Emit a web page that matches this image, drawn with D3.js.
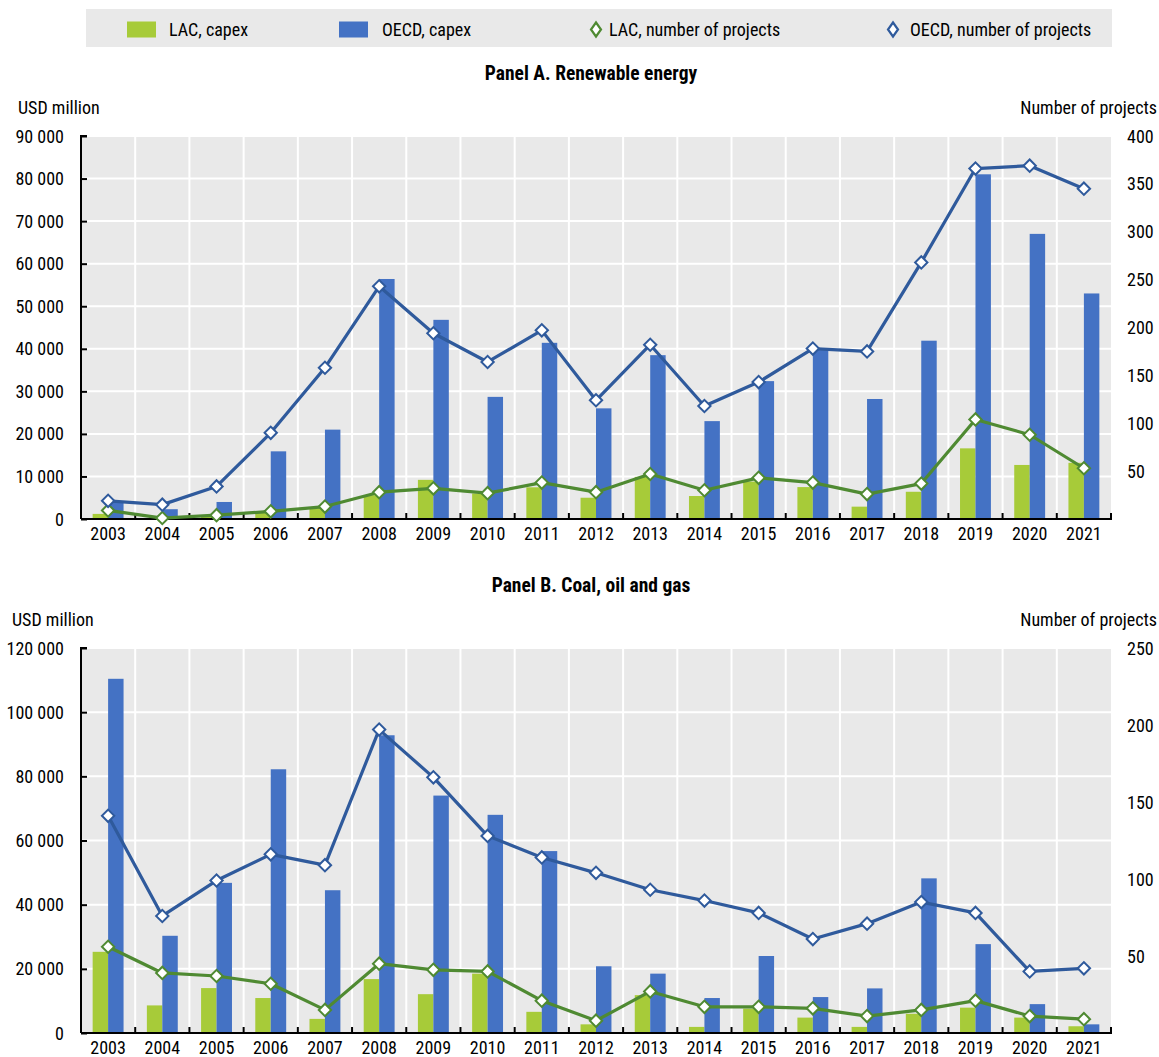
<!DOCTYPE html>
<html><head><meta charset="utf-8">
<script src="https://cdn.jsdelivr.net/npm/d3@7"></script>
<style>
body{margin:0;background:#fff;}
svg text{font-family:"Liberation Sans Narrow","Arial Narrow","Roboto Condensed",sans-serif;fill:#000;}
</style></head>
<body><svg id="c" width="1159" height="1057"></svg>
<script>
const years = ["2003","2004","2005","2006","2007","2008","2009","2010","2011","2012","2013","2014","2015","2016","2017","2018","2019","2020","2021"];

// Panel A. Renewable energy
const renLacCapex  = [1200,200,500,1700,2800,5600,9200,6000,7450,5000,9900,5400,8800,7500,2900,6400,16600,12700,13200];
const renOecdCapex = [4000,2300,4000,15900,21000,56400,46800,28700,41400,26000,38500,23000,32400,39700,28200,41900,81000,67000,53000];
const renLacProj   = [9,1,4,8,13,28,32,27,38,28,47,30,43,38,26,37,104,88,53];
const renOecdProj  = [19,15,34,90,158,243,194,164,197,124,182,118,143,178,175,268,366,369,345];

// Panel B. Coal, oil and gas
const fosLacCapex  = [25300,8600,14000,10900,4400,16800,12100,18500,6600,2700,11800,1900,7600,4800,1900,6000,7900,4800,2100];
const fosOecdCapex = [110400,30300,46800,82200,44500,92800,74000,68000,56700,20800,18500,10900,24000,11200,13900,48200,27700,9000,2700];
const fosLacProj   = [56,39,37,32,15,45,41,40,21,8,27,17,17,16,11,15,21,11,9];
const fosOecdProj  = [141,76,99,116,109,197,166,128,114,104,93,86,78,61,71,85,78,40,42];

const leftTicksA = [0,10000,20000,30000,40000,50000,60000,70000,80000,90000];
const rightTicksA = [50,100,150,200,250,300,350,400];
const leftTicksB = [0,20000,40000,60000,80000,100000,120000];
const rightTicksB = [50,100,150,200,250];

const legendItems = [
  {label:"LAC, capex", type:"bar", key:"lac"},
  {label:"OECD, capex", type:"bar", key:"oecd"},
  {label:"LAC, number of projects", type:"line", key:"lac"},
  {label:"OECD, number of projects", type:"line", key:"oecd"}
];

const COL = {lacBar:"#A7CB39", oecdBar:"#4472C4", lacLine:"#4F8A32", oecdLine:"#2F5A9C", bg:"#E9E9E9"};
const FS = 18;
const svg = d3.select("#c");
const fmt = v => d3.format(",")(v).replace(/,/g," ");

// Legend
const lg = svg.append("g");
lg.append("rect").attr("x",86).attr("y",9).attr("width",1026).attr("height",38).attr("fill",COL.bg);
const legX = [127, 339, 596, 893];
const legTX = [169, 382, 609, 910];
legendItems.forEach((it,i)=>{
  if(it.type==="bar"){
    lg.append("rect").attr("x",legX[i]).attr("y",21.5).attr("width",29).attr("height",16)
      .attr("fill", it.key==="lac"?COL.lacBar:COL.oecdBar);
  } else {
    const cx = legX[i], cy = 29.5;
    lg.append("path").attr("d",`M${cx},${cy-7}L${cx+5},${cy}L${cx},${cy+7}L${cx-5},${cy}Z`)
      .attr("fill","#fff").attr("stroke", it.key==="lac"?COL.lacLine:COL.oecdLine).attr("stroke-width",2.2);
  }
  lg.append("text").attr("x",legTX[i]).attr("y",35.5).attr("font-size",FS).text(it.label);
});

function panel(cfg){
  const {top,bottom,left,right,leftMax,rightMax,leftTicks,rightTicks,lac,oecd,lacP,oecdP,title,titleY,unitY,unitX} = cfg;
  const g = svg.append("g");
  const x = d3.scaleBand().domain(years).range([left,right]).padding(0);
  const inner = d3.scaleBand().domain(["lac","oecd"]).range([0, x.bandwidth()*0.57]);
  const off = (x.bandwidth() - x.bandwidth()*0.57)/2;
  const yL = d3.scaleLinear().domain([0,leftMax]).range([bottom,top]);
  const yR = d3.scaleLinear().domain([0,rightMax]).range([bottom,top]);

  g.append("rect").attr("x",left).attr("y",top).attr("width",right-left).attr("height",bottom-top).attr("fill",COL.bg);
  g.selectAll(".hg").data(leftTicks.filter(t=>t>0)).join("line")
    .attr("x1",left).attr("x2",right).attr("y1",d=>yL(d)).attr("y2",d=>yL(d))
    .attr("stroke","#fff").attr("stroke-width",2);
  g.selectAll(".vg").data(years.slice(1)).join("line")
    .attr("x1",d=>x(d)).attr("x2",d=>x(d)).attr("y1",top).attr("y2",bottom)
    .attr("stroke","#fff").attr("stroke-width",2);

  g.selectAll(".bl").data(years).join("rect")
    .attr("x",(d)=>x(d)+off+inner("lac")).attr("width",inner.bandwidth())
    .attr("y",(d,i)=>yL(lac[i])).attr("height",(d,i)=>bottom-yL(lac[i])).attr("fill",COL.lacBar);
  g.selectAll(".bo").data(years).join("rect")
    .attr("x",(d)=>x(d)+off+inner("oecd")).attr("width",inner.bandwidth())
    .attr("y",(d,i)=>yL(oecd[i])).attr("height",(d,i)=>bottom-yL(oecd[i])).attr("fill",COL.oecdBar);

  const axL = g.append("g").attr("transform",`translate(${left},0)`)
    .call(d3.axisRight(yL).tickValues(leftTicks).tickSize(6).tickFormat(""));
  axL.select(".domain").attr("stroke","#000").attr("stroke-width",2).attr("d",`M6,${top}H0V${bottom}`);
  axL.selectAll(".tick line").attr("stroke","#000").attr("stroke-width",2);
  const axB = g.append("g").attr("transform",`translate(0,${bottom})`)
    .call(d3.axisTop(x).tickValues([]).tickSize(0));
  axB.select(".domain").attr("stroke","#000").attr("stroke-width",2.2).attr("d",`M${left},0H${right+1}`);
  const bounds = years.slice(1).map(d=>x(d)).concat([right]);
  g.selectAll(".xt").data(bounds).join("line")
    .attr("x1",d=>d).attr("x2",d=>d).attr("y1",bottom).attr("y2",bottom-6)
    .attr("stroke","#000").attr("stroke-width",2);

  g.selectAll(".lt").data(leftTicks).join("text")
    .attr("x",left-17).attr("y",d=>yL(d)+6.5).attr("text-anchor","end").attr("font-size",FS).text(fmt);
  g.selectAll(".rt").data(rightTicks).join("text")
    .attr("x",right+16).attr("y",d=>yR(d)+6.5).attr("text-anchor","start").attr("font-size",FS).text(d=>d);
  g.selectAll(".xl").data(years).join("text")
    .attr("x",d=>x(d)+x.bandwidth()/2).attr("y",bottom+21).attr("text-anchor","middle").attr("font-size",FS).text(d=>d);

  g.append("text").attr("x",591).attr("y",titleY).attr("text-anchor","middle").attr("font-size",19.5).attr("font-weight","bold").text(title);
  g.append("text").attr("x",unitX).attr("y",unitY).attr("font-size",FS).text("USD million");
  g.append("text").attr("x",1157).attr("y",unitY).attr("text-anchor","end").attr("font-size",FS).text("Number of projects");

  const cx = d=>x(d)+x.bandwidth()/2;
  const line = arr => d3.line().x(d=>cx(d)).y((d,i)=>yR(arr[i]))(years);
  [[lacP,COL.lacLine],[oecdP,COL.oecdLine]].forEach(([arr,c])=>{
    g.append("path").attr("d",line(arr)).attr("fill","none").attr("stroke",c).attr("stroke-width",3.2).attr("stroke-linejoin","round");
    g.selectAll(null).data(years).join("path")
      .attr("d",d3.symbol(d3.symbolSquare,76)())
      .attr("transform",(d,i)=>`translate(${cx(d)},${yR(arr[i])}) rotate(45)`)
      .attr("fill","#fff").attr("stroke",c).attr("stroke-width",2);
  });
}

panel({top:136,bottom:519,left:81,right:1111,leftMax:90000,rightMax:400,leftTicks:leftTicksA,rightTicks:rightTicksA,
  lac:renLacCapex,oecd:renOecdCapex,lacP:renLacProj,oecdP:renOecdProj,title:"Panel A. Renewable energy",titleY:80,unitY:114,unitX:18});
panel({top:648,bottom:1033,left:81,right:1111,leftMax:120000,rightMax:250,leftTicks:leftTicksB,rightTicks:rightTicksB,
  lac:fosLacCapex,oecd:fosOecdCapex,lacP:fosLacProj,oecdP:fosOecdProj,title:"Panel B. Coal, oil and gas",titleY:592,unitY:626,unitX:12});
</script></body></html>
